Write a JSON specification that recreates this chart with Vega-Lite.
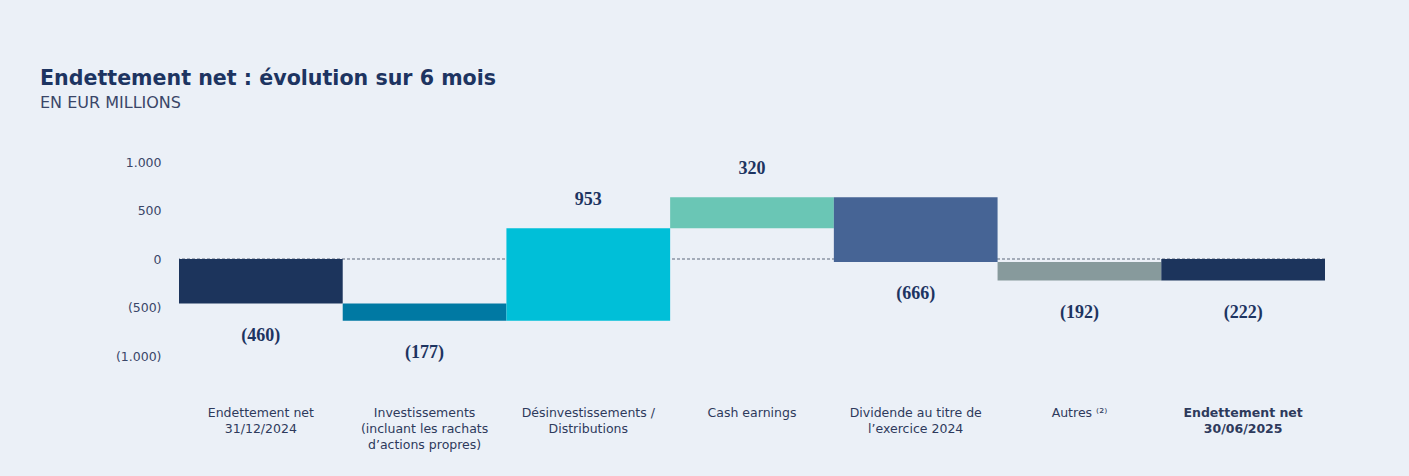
{
  "$schema": "https://vega.github.io/schema/vega-lite/v6.json",
  "autosize": {"type": "none"},
  "padding": {"left": 179, "top": 162, "right": 84, "bottom": 120},
  "width": 1146,
  "height": 194,
  "background": "#EBF0F7",
  "title": {
    "text": "Endettement net : évolution sur 6 mois",
    "subtitle": "EN EUR MILLIONS",
    "anchor": "start",
    "frame": "group",
    "dx": -139,
    "offset": 45,
    "font": "DejaVu Sans",
    "fontSize": 20.6,
    "fontWeight": "bold",
    "color": "#1D3461",
    "subtitleFont": "DejaVu Sans",
    "subtitleFontSize": 16,
    "subtitleColor": "#3A4668",
    "subtitlePadding": 5
  },
  "config": {
    "view": {"stroke": null},
    "font": "DejaVu Sans"
  },
  "data": {
    "values": [
      {"cat": "Endettement net|31/12/2024", "start": 0, "end": -460, "value": -460},
      {"cat": "Investissements|(incluant les rachats|d’actions propres)", "start": -460, "end": -637, "value": -177},
      {"cat": "Désinvestissements /|Distributions", "start": -637, "end": 316, "value": 953},
      {"cat": "Cash earnings", "start": 316, "end": 636, "value": 320},
      {"cat": "Dividende au titre de|l’exercice 2024", "start": 636, "end": -30, "value": -666},
      {"cat": "Autres ⁽²⁾", "start": -30, "end": -222, "value": -192},
      {"cat": "Endettement net|30/06/2025", "start": 0, "end": -222, "value": -222}
    ]
  },
  "encoding": {
    "x": {
      "field": "cat",
      "type": "nominal",
      "sort": null,
      "scale": {"paddingInner": 0, "paddingOuter": 0},
      "axis": {
        "title": null,
        "domain": false,
        "ticks": false,
        "labelAngle": 0,
        "labelBaseline": "top",
        "labelPadding": 50,
        "labelFont": "DejaVu Sans",
        "labelFontSize": 12.5,
        "labelColor": "#2E3A5C",
        "labelLimit": 0,
        "labelLineHeight": 16,
        "labelExpr": "split(datum.label, '|')",
        "labelFontWeight": {"condition": {"test": "datum.value == 'Endettement net|30/06/2025'", "value": "bold"}, "value": "normal"}
      }
    }
  },
  "layer": [
    {
      "mark": {"type": "rule", "color": "#A3ABB8", "strokeDash": [3, 2], "strokeWidth": 1},
      "encoding": {"y": {"datum": 0, "type": "quantitative"}, "x": null}
    },
    {
      "mark": {"type": "bar"},
      "encoding": {
        "y": {
          "field": "start",
          "type": "quantitative",
          "scale": {"domain": [-1000, 1000], "nice": false},
          "axis": {
            "title": null,
            "domain": false,
            "ticks": false,
            "grid": false,
            "values": [-1000, -500, 0, 500, 1000],
            "labelPadding": 18,
            "labelFont": "DejaVu Sans",
            "labelFontSize": 12.5,
            "labelColor": "#3A4668",
            "labelExpr": "datum.value < 0 ? '(' + replace(format(-datum.value, ','), ',', '.') + ')' : replace(format(datum.value, ','), ',', '.')"
          }
        },
        "y2": {"field": "end"},
        "color": {
          "field": "cat",
          "type": "nominal",
          "legend": null,
          "scale": {
            "domain": ["Endettement net|31/12/2024", "Investissements|(incluant les rachats|d’actions propres)", "Désinvestissements /|Distributions", "Cash earnings", "Dividende au titre de|l’exercice 2024", "Autres ⁽²⁾", "Endettement net|30/06/2025"],
            "range": ["#1C345C", "#0079A3", "#00BFD8", "#6AC6B5", "#466495", "#879A9C", "#1C345C"]
          }
        }
      }
    },
    {
      "transform": [{"filter": "datum.value < 0"}],
      "mark": {"type": "text", "dy": 32, "baseline": "middle", "font": "Liberation Serif", "fontWeight": "bold", "fontSize": 18, "color": "#1D3461"},
      "encoding": {
        "y": {"field": "end", "type": "quantitative"},
        "text": {"field": "value", "type": "quantitative", "format": "(,d"}
      }
    },
    {
      "transform": [{"filter": "datum.value > 0"}],
      "mark": {"type": "text", "dy": -28, "baseline": "middle", "font": "Liberation Serif", "fontWeight": "bold", "fontSize": 18, "color": "#1D3461"},
      "encoding": {
        "y": {"field": "end", "type": "quantitative"},
        "text": {"field": "value", "type": "quantitative", "format": "(,d"}
      }
    }
  ]
}
